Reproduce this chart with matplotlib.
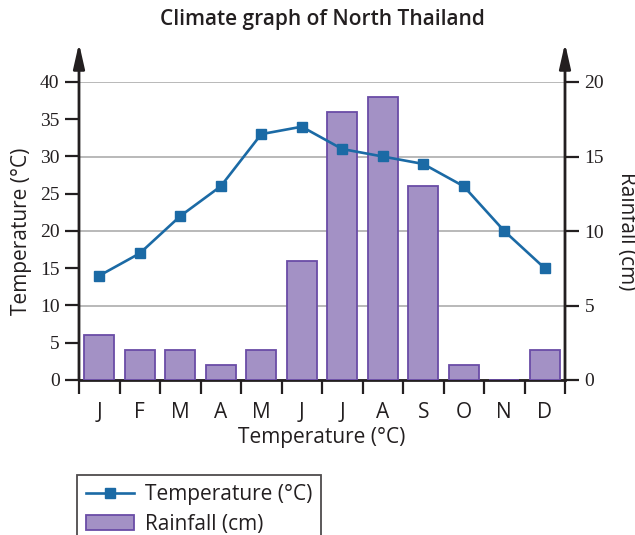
import matplotlib
matplotlib.use("Agg")
import matplotlib.pyplot as plt
import numpy as np
from matplotlib.lines import Line2D
from matplotlib.patches import Patch

months = ["J", "F", "M", "A", "M", "J", "J", "A", "S", "O", "N", "D"]
temperature = [14, 17, 22, 26, 33, 34, 31, 30, 29, 26, 20, 15]
rainfall = [3, 2, 2, 1, 2, 8, 18, 19, 13, 1, 0, 2]
temp_ticks = [0, 5, 10, 15, 20, 25, 30, 35, 40]
rain_ticks = [0, 5, 10, 15, 20]

SANS = ["Open Sans", "DejaVu Sans"]
SERIF = ["Liberation Serif", "DejaVu Serif"]
AX = "#231f20"
TXT = "#231f20"
BAR_FILL = "#a391c5"
BAR_EDGE = "#6a4ca6"
LINE = "#1b6aa5"
FS = 15

W, H = 635, 535
fig = plt.figure(figsize=(W / 100, H / 100), dpi=100)
left, right, bottom, top = 79, 565, 380, 82
ax = fig.add_axes([left / W, 1 - bottom / H, (right - left) / W, (bottom - top) / H])
ax2 = ax.twinx()

x = np.arange(len(months))

# Bars (rainfall) on primary axes, drawn under the line
ax.bar(x, rainfall, width=0.74, color=BAR_FILL, edgecolor=BAR_EDGE, linewidth=1.3, zorder=2)
ax.set_ylim(0, 20)
ax.set_xlim(-0.5, len(months) - 0.5)
ax.set_yticks(rain_ticks)
ax.grid(axis="y", color="#b3b3b3", linewidth=1.3, zorder=0)
ax.set_axisbelow(True)
ax.yaxis.tick_right()
ax.yaxis.set_label_position("right")

# Line (temperature) on twin axes
ax2.plot(x, temperature, color=LINE, linewidth=1.9, marker="s", markersize=7.5,
         markerfacecolor=LINE, markeredgecolor=LINE, zorder=3)
ax2.set_ylim(0, 40)
ax2.set_yticks(temp_ticks)
ax2.yaxis.tick_left()
ax2.yaxis.set_label_position("left")

for a in (ax, ax2):
    for s in a.spines.values():
        s.set_visible(False)
    a.patch.set_visible(False)

ax.spines["bottom"].set_visible(True)
ax.spines["bottom"].set_linewidth(2.0)
ax.spines["bottom"].set_color(AX)
ax.spines["bottom"].set_zorder(1)

# x ticks: boundaries as major ticks, labels at centers via minor ticks
ax.set_xticks(np.arange(-0.5, len(months), 1.0))
ax.set_xticklabels([])
ax.tick_params(axis="x", which="major", direction="out", length=10, width=1.6, color=AX)
ax.set_xticks(x, minor=True)
ax.set_xticklabels(months, minor=True, fontfamily=SANS, fontsize=FS, color=TXT)
ax.tick_params(axis="x", which="minor", length=0, pad=16)
ax2.tick_params(axis="x", which="both", bottom=False, labelbottom=False)

# y ticks
for a in (ax, ax2):
    a.tick_params(axis="y", direction="out", length=10, width=1.6, color=AX, pad=4,
                  labelsize=14, labelcolor=AX)
for lab in ax.get_yticklabels() + ax2.get_yticklabels():
    lab.set_fontfamily(SERIF)

# axis lines with arrowheads
for xa in (0, 1):
    ax.annotate("", xy=(xa, 1.13), xytext=(xa, 0.0), xycoords="axes fraction",
                textcoords="axes fraction",
                arrowprops=dict(arrowstyle="-|>,head_length=1.5,head_width=0.34",
                                lw=2.0, color=AX, mutation_scale=10,
                                shrinkA=0, shrinkB=0),
                annotation_clip=False, zorder=5)

# axis labels
ax.set_xlabel("Temperature (°C)", fontfamily=SANS, fontsize=FS, color=TXT)
ax.xaxis.set_label_coords(0.5, (bottom - 437) / (bottom - top))
ax.xaxis.label.set_va("center")

ax2.set_ylabel("Temperature (°C)", fontfamily=SANS, fontsize=FS, color=TXT)
ax2.yaxis.set_label_coords((22 - left) / (right - left), 0.5)
ax2.yaxis.label.set_va("center")

ax.set_ylabel("Rainfall (cm)", fontfamily=SANS, fontsize=FS, color=TXT, rotation=-90)
ax.yaxis.set_label_coords((626 - left) / (right - left), 0.5)
ax.yaxis.label.set_va("center")

# title
fig.text(322 / W, 1 - 20 / H, "Climate graph of North Thailand", ha="center", va="center",
         fontfamily=SANS, fontsize=15, fontweight="semibold", color=TXT)

# legend (bottom part cut off by the figure edge, as in the reference)
handles = [
    Line2D([0], [0], color=LINE, linewidth=1.9, marker="s", markersize=6.5,
           markerfacecolor=LINE, markeredgecolor=LINE),
    Patch(facecolor=BAR_FILL, edgecolor=BAR_EDGE, linewidth=1.3),
]
leg = fig.legend(handles, ["Temperature (°C)", "Rainfall (cm)"],
                 loc="upper left", bbox_to_anchor=(77 / W, 1 - 475 / H),
                 prop={"family": SANS, "size": FS}, frameon=True, fancybox=False,
                 edgecolor=AX, handlelength=2.3, handleheight=0.75, handletextpad=0.5,
                 borderpad=0.45, labelspacing=0.4, borderaxespad=0)
leg.get_frame().set_linewidth(1.3)
for t in leg.get_texts():
    t.set_color(TXT)

fig.savefig("out.png", dpi=100)
